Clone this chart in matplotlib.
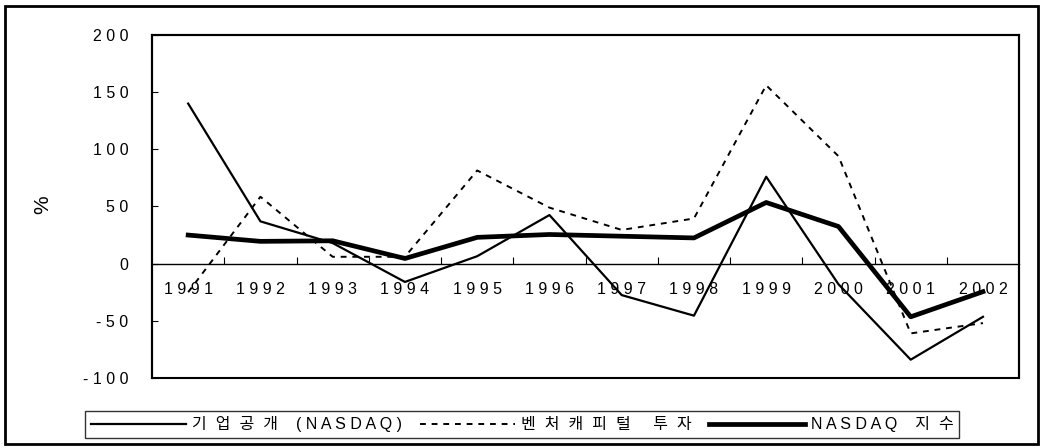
import matplotlib
matplotlib.use('Agg')
import matplotlib.pyplot as plt
from matplotlib.patches import Rectangle
import numpy as np

plt.rcParams['font.family'] = ['Liberation Sans', 'Noto Sans CJK KR', 'DejaVu Sans']

# data (annual growth, %)
years = ['1991', '1992', '1993', '1994', '1995', '1996',
         '1997', '1998', '1999', '2000', '2001', '2002']
ipo_nasdaq = [140, 37, 18, -16, 6.5, 42.5, -27.5, -45.5, 76, -18, -84, -46.5]
venture_capital = [-25, 58.5, 6, 6, 81.5, 49, 29.5, 39.5, 156, 94, -61, -52]
nasdaq_index = [25, 19.5, 20, 4.5, 23, 25.5, 24, 22.5, 53.5, 32.5, -46.5, -24.5]

labels = ['기업공개 (NASDAQ)', '벤처캐피털 투자', 'NASDAQ 지수']
y_ticks = [200, 150, 100, 50, 0, -50, -100]


def spaced(s):
    # the original uses wide letter spacing, a bit wider for hangul
    out = []
    for i, ch in enumerate(s):
        out.append(ch)
        if i < len(s) - 1:
            wide = ord(ch) > 127 or ord(s[i + 1]) > 127
            out.append('  ' if wide else ' ')
    return ''.join(out)


fig = plt.figure(figsize=(10.4, 4.48), dpi=100)
ax = fig.add_axes([0.1462, 0.1563, 0.8337, 0.7656])

x = np.arange(len(years))
l1, = ax.plot(x, ipo_nasdaq, color='black', linewidth=1.6)
l2, = ax.plot(x, venture_capital, color='black', linewidth=1.4, linestyle=(0, (3, 3)))
l3, = ax.plot(x, nasdaq_index, color='black', linewidth=3.4)

ax.set_xlim(-0.5, len(years) - 0.5)
ax.set_ylim(-100, 200)

# y axis
ax.set_yticks(y_ticks)
ax.set_yticklabels([spaced(str(v)) for v in y_ticks])
ax.tick_params(axis='y', direction='in', length=4, width=0.8, pad=17, labelsize=11.5)

# category axis sits on the zero line, ticks between categories
ax.spines['bottom'].set_position(('data', 0))
ax.spines['bottom'].set_linewidth(1.0)
ax.set_xticks(np.arange(0.5, len(years) - 1, 1.0))
ax.set_xticklabels([])
ax.tick_params(axis='x', which='major', direction='in', length=5, width=0.8)
ax.set_xticks(x, minor=True)
ax.set_xticklabels([spaced(y) for y in years], minor=True)
ax.tick_params(axis='x', which='minor', length=0, pad=13, labelsize=11.5)

for side in ['left', 'top', 'right']:
    ax.spines[side].set_linewidth(1.5)
ax.add_patch(Rectangle((0, 0), 1, 1, transform=ax.transAxes, fill=False,
                       edgecolor='black', linewidth=1.5, clip_on=False))

fig.text(43 / 1040, 1 - 205 / 448, '%', rotation=90, ha='center', va='center', fontsize=15)

leg = fig.legend([l1, l2, l3], [spaced(s) for s in labels], loc='center',
                 bbox_to_anchor=(0.502, 0.0525), ncol=3, fontsize=11.5,
                 frameon=True, fancybox=False, handlelength=6.0, handletextpad=0.35,
                 columnspacing=1.1, borderpad=0.35, borderaxespad=0)
leg.get_frame().set_edgecolor('black')
leg.get_frame().set_linewidth(1.0)

# outer chart frame
fig.patches.append(Rectangle((5 / 1040, 1 - 444 / 448), 1033 / 1040, 438 / 448,
                             transform=fig.transFigure, fill=False,
                             edgecolor='black', linewidth=2))

fig.savefig('out.png', dpi=100)
